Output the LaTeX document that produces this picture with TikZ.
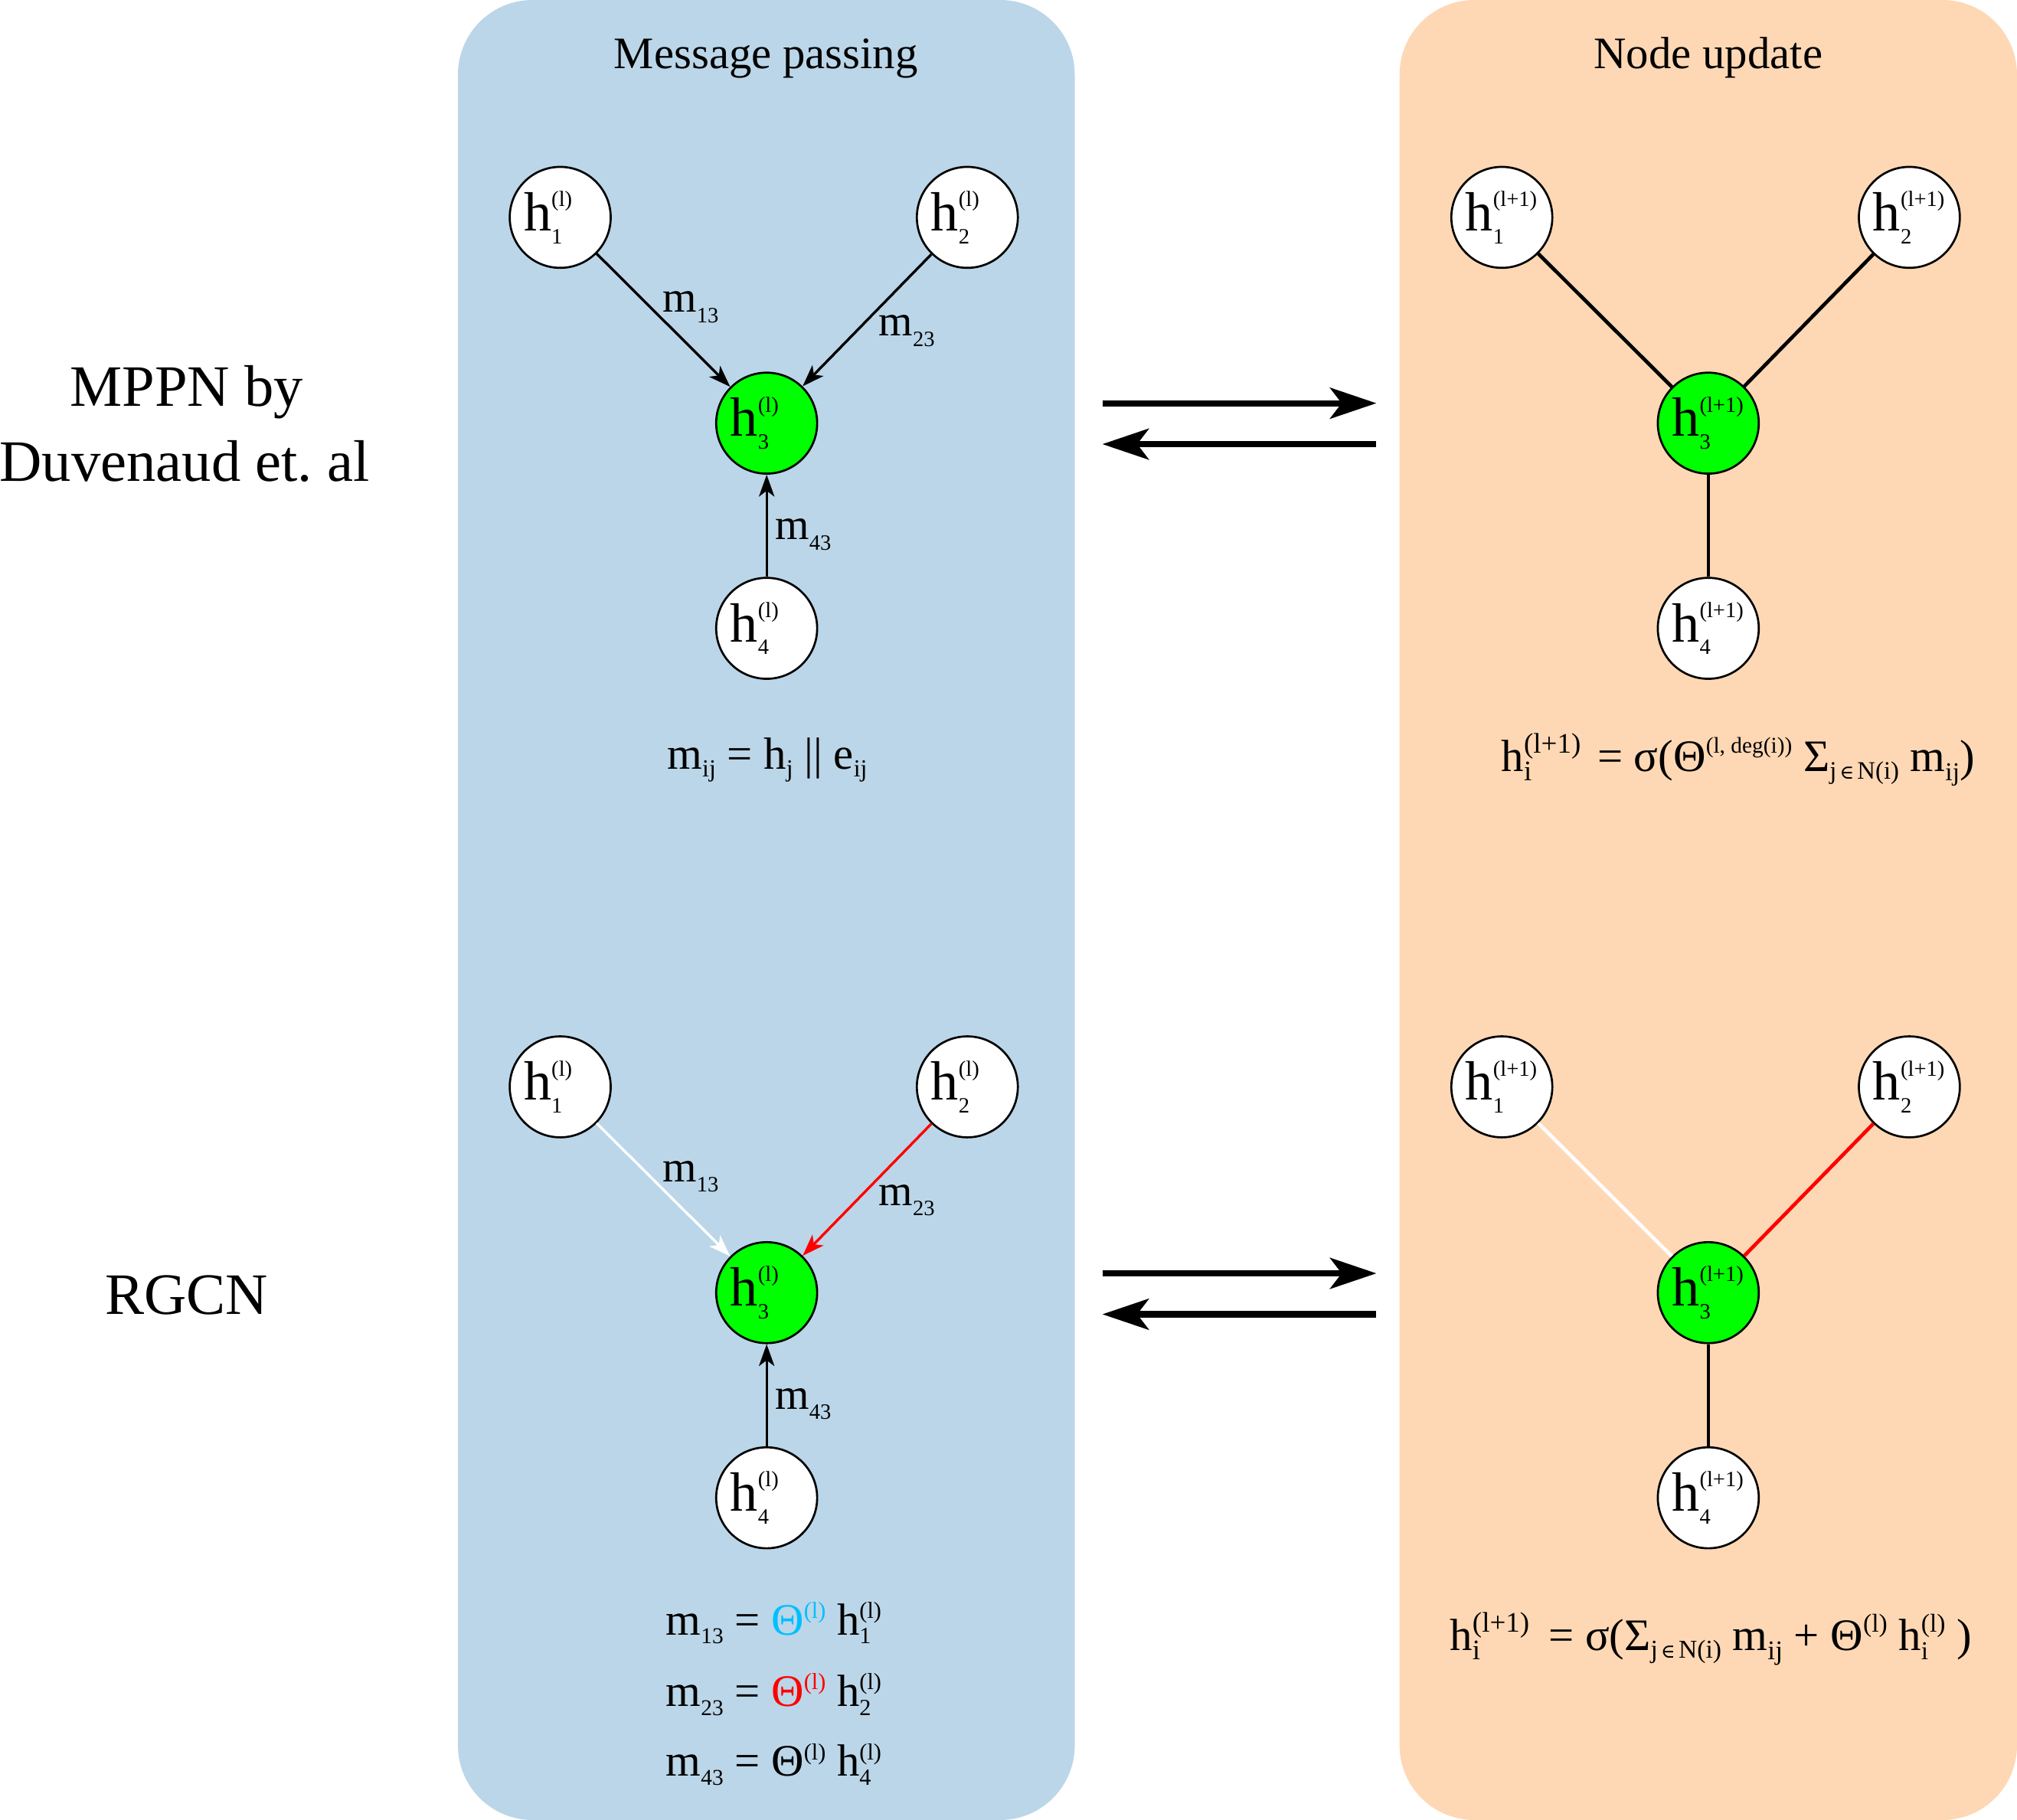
\documentclass[tikz,border=0pt]{standalone}
\usepackage{fontspec}
\setmainfont{Liberation Serif}
\newfontfamily\symf{DejaVu Serif}
\usetikzlibrary{arrows.meta}
\frenchspacing
\definecolor{panelblue}{RGB}{187,214,232}
\definecolor{panelorange}{RGB}{254,216,180}
\definecolor{nodegreen}{RGB}{0,255,0}
\definecolor{thetacyan}{RGB}{0,191,255}
\newsavebox\ssSupBox
\newsavebox\ssSubBox
\newlength\ssWidth
% size, raise, lower, sup, sub
\newcommand\SupSub[5]{%
  \sbox\ssSupBox{\fontsize{#1}{#1}\selectfont #4}%
  \sbox\ssSubBox{\fontsize{#1}{#1}\selectfont #5}%
  \ifdim\wd\ssSupBox>\wd\ssSubBox\setlength\ssWidth{\wd\ssSupBox}\else\setlength\ssWidth{\wd\ssSubBox}\fi
  \rlap{\raisebox{#2}{\usebox\ssSupBox}}\rlap{\raisebox{-#3}{\usebox\ssSubBox}}\hspace*{\ssWidth}}
\newcommand\Sup[3]{\raisebox{#2}{\fontsize{#1}{#1}\selectfont #3}}
\newcommand\Sub[3]{\raisebox{-#2}{\fontsize{#1}{#1}\selectfont #3}}
\newcommand\hlab[2]{\fontsize{43}{43}\selectfont h\makebox[35pt][l]{\SupSub{17}{19pt}{10pt}{#1}{#2}}}
\newcommand\inop{{\symf\fontsize{15}{15}\selectfont\,∈\,}}
\tikzset{
  gnode/.style={circle, draw=black, line width=1.6pt, fill=white, minimum size=78.5pt, inner sep=0pt},
  gcenter/.style={gnode, fill=nodegreen},
  msg/.style={line width=2pt, -{Stealth[length=17pt,width=12pt,inset=4.5pt]}},
  upd/.style={line width=2.8pt},
  flow/.style={line width=4.8pt, -{Stealth[length=36pt,width=24pt,inset=9pt]}},
  elabel/.style={anchor=base west, inner sep=0pt, font=\fontsize{34}{34}\selectfont},
  eqn/.style={inner sep=0pt, font=\fontsize{35}{35}\selectfont},
  ptitle/.style={anchor=base, inner sep=0pt, font=\fontsize{35}{35}\selectfont},
  side/.style={anchor=base, inner sep=0pt, font=\fontsize{45.6}{45.6}\selectfont},
}
\begin{document}
\begin{tikzpicture}[x=1pt,y=-1pt]
\useasboundingbox (0,0) rectangle (1568,1415);
% panels
\fill[panelblue, rounded corners=58pt] (356,0) rectangle (835.5,1415);
\fill[panelorange, rounded corners=58pt] (1088,0) rectangle (1568,1415);
\node[ptitle] (t1) at (595.5,53.2) {Message passing};
\node[ptitle] (t2) at (1328,53.2) {Node update};
% side labels
\node[side] (s1) at (145,316) {MPPN by};
\node[side] (s2) at (143.4,374) {Duvenaud et. al};
\node[side] (s3) at (145,1022) {RGCN};
% top left graph
\node[gnode] (a1) at (435.5,169) {\hlab{(l)}{1}};
\node[gnode] (a2) at (752,169) {\hlab{(l)}{2}};
\node[gcenter] (a3) at (596,329) {\hlab{(l)}{3}};
\node[gnode] (a4) at (596,488.5) {\hlab{(l)}{4}};
\draw[msg] (a1) -- (a3);
\draw[msg] (a2) -- (a3);
\draw[msg] (a4) -- (a3);
\node[elabel] (la1) at (515,242.7) {m\Sub{17}{8pt}{13}};
\node[elabel] (la2) at (683,261.3) {m\Sub{17}{8pt}{23}};
\node[elabel] (la3) at (602.5,419.5) {m\Sub{17}{8pt}{43}};
\node[eqn, anchor=base] (ea) at (596.5,597.7) {m\Sub{19}{6pt}{ij} = h\Sub{19}{6pt}{j} || e\Sub{19}{6pt}{ij}};
% top right graph
\node[gnode] (b1) at (1167.5,169) {\hlab{(l+1)}{1}};
\node[gnode] (b2) at (1484.3,169) {\hlab{(l+1)}{2}};
\node[gcenter] (b3) at (1328,329) {\hlab{(l+1)}{3}};
\node[gnode] (b4) at (1328,488.5) {\hlab{(l+1)}{4}};
\draw[upd] (b1) -- (b3);
\draw[upd] (b2) -- (b3);
\draw[upd] (b4) -- (b3);
\node[eqn, anchor=base west] (eb) at (1167,599.7) {h\SupSub{22}{14pt}{7pt}{(l+1)}{i}\hspace{13pt}= σ(Θ\Sup{17.5}{14pt}{(l, deg(i))} Σ\Sub{19.5}{6pt}{j\inop N(i)} m\Sub{20}{7pt}{ij})};
% flow arrows top
\coordinate (f1s) at (857,313.5);
\coordinate (f1e) at (1070,313.5);
\coordinate (f2s) at (1070,345.3);
\coordinate (f2e) at (857,345.3);
\draw[flow] (f1s) -- (f1e);
\draw[flow] (f2s) -- (f2e);
% bottom left graph
\node[gnode] (c1) at (435.5,845) {\hlab{(l)}{1}};
\node[gnode] (c2) at (752,845) {\hlab{(l)}{2}};
\node[gcenter] (c3) at (596,1005) {\hlab{(l)}{3}};
\node[gnode] (c4) at (596,1164.5) {\hlab{(l)}{4}};
\draw[msg, white] (c1) -- (c3);
\draw[msg, red] (c2) -- (c3);
\draw[msg] (c4) -- (c3);
\node[elabel] (lc1) at (515,918.7) {m\Sub{17}{8pt}{13}};
\node[elabel] (lc2) at (683,937.3) {m\Sub{17}{8pt}{23}};
\node[elabel] (lc3) at (602.5,1095.5) {m\Sub{17}{8pt}{43}};
\node[eqn, anchor=base west] (ec1) at (517.5,1271) {m\Sub{17.5}{7pt}{13} = {\color{thetacyan}Θ\Sup{18}{13pt}{(l)}} h\SupSub{18}{13pt}{7pt}{(l)}{1}};
\node[eqn, anchor=base west] (ec2) at (517.5,1326.5) {m\Sub{17.5}{7pt}{23} = {\color{red}Θ\Sup{18}{13pt}{(l)}} h\SupSub{18}{13pt}{7pt}{(l)}{2}};
\node[eqn, anchor=base west] (ec3) at (517.5,1381) {m\Sub{17.5}{7pt}{43} = Θ\Sup{18}{13pt}{(l)} h\SupSub{18}{13pt}{7pt}{(l)}{4}};
% bottom right graph
\node[gnode] (d1) at (1167.5,845) {\hlab{(l+1)}{1}};
\node[gnode] (d2) at (1484.3,845) {\hlab{(l+1)}{2}};
\node[gcenter] (d3) at (1328,1005) {\hlab{(l+1)}{3}};
\node[gnode] (d4) at (1328,1164.5) {\hlab{(l+1)}{4}};
\draw[upd, white] (d1) -- (d3);
\draw[upd, red] (d2) -- (d3);
\draw[upd] (d4) -- (d3);
\node[eqn, anchor=base west] (ed) at (1127,1283) {h\SupSub{22}{14pt}{7pt}{(l+1)}{i}\hspace{15pt}= σ(Σ\Sub{20}{6pt}{j\inop N(i)} m\Sub{21}{7pt}{ij} + Θ\Sup{20}{14pt}{(l)} h\SupSub{20}{14pt}{7pt}{(l)}{i} )};
% flow arrows bottom
\coordinate (g1s) at (857,990);
\coordinate (g1e) at (1070,990);
\coordinate (g2s) at (1070,1021.8);
\coordinate (g2e) at (857,1021.8);
\draw[flow] (g1s) -- (g1e);
\draw[flow] (g2s) -- (g2e);
\end{tikzpicture}
\end{document}
